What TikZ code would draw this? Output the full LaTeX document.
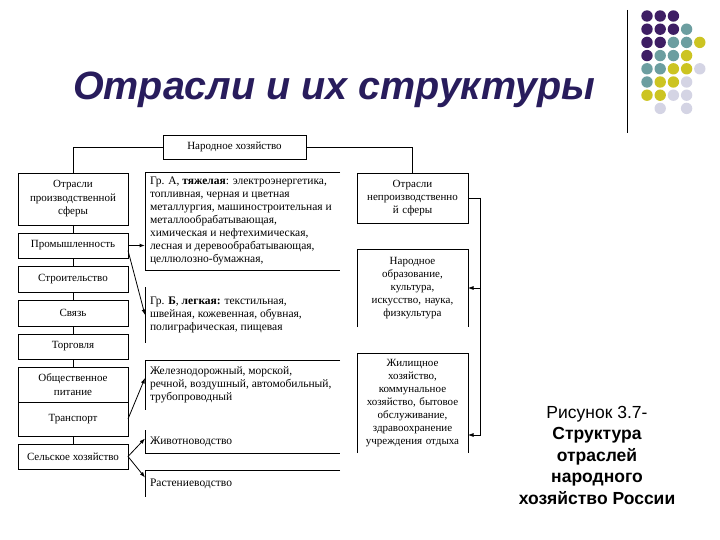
\documentclass[tikz,border=0pt]{standalone}
\usepackage{fontspec}
\setmainfont{Liberation Serif}
\newfontfamily\arialfont{Liberation Sans}
\usetikzlibrary{arrows.meta,positioning}
\definecolor{titlec}{RGB}{40,28,92}
\definecolor{dotP}{RGB}{62,30,100}
\definecolor{dotT}{RGB}{108,158,160}
\definecolor{dotY}{RGB}{204,196,34}
\definecolor{dotL}{RGB}{212,212,228}
\definecolor{dotN}{RGB}{255,255,255}

\begin{document}
\begin{tikzpicture}[
    x=1pt, y=-1pt,
    node distance=8pt,
    every node/.style={outer sep=0pt},
    lbox/.style={draw, line width=0.7pt, minimum width=110pt, inner sep=1pt,
                 align=center, font=\fontsize{11}{13.5}\selectfont},
    mbox/.style={minimum width=195pt, inner xsep=5pt, inner ysep=1pt,
                 text width=185pt, align=flush left, font=\fontsize{11.5}{13}\selectfont},
    rbox/.style={minimum width=111pt, inner xsep=2pt, inner ysep=1pt,
                 text width=107pt, align=center, font=\fontsize{11}{13}\selectfont},
    edge/.style={line width=0.7pt},
    arrow/.style={-{Latex[length=5.5pt,width=4pt]}, line width=0.8pt}
  ]
  \useasboundingbox (0,0) rectangle (720,540);

  % title and corner decoration
  \node[font=\arialfont\bfseries\itshape\fontsize{39.5}{44}\selectfont, text=titlec] (title) at (334,90) {Отрасли и их структуры};
  \draw[line width=0.8pt] (627,10) -- (627,133);
  \foreach \row [count=\j] in {{P,P,P,N,N},{P,P,P,T,N},{P,P,T,T,Y},{P,T,T,Y,N},
                               {T,T,Y,Y,L},{T,Y,Y,L,N},{Y,Y,L,L,N},{N,L,N,L,N}}
    \foreach \c [count=\i] in \row
      \fill[dot\c] (633.8+13.2*\i, 2.8+13.2*\j) circle (5.7);

  \node[lbox, minimum width=143pt, minimum height=24pt] (nh) at (234.5,147) {Народное хозяйство};

  % left column
  \node[lbox, minimum height=52pt] (prodsf) at (73,199) {Отрасли\\производственной\\сферы};
  \node[lbox, minimum height=25pt, below=of prodsf] (prom) {Промышленность};
  \node[lbox, minimum height=26pt, below=of prom] (stroi) {Строительство};
  \node[lbox, minimum height=26pt, below=of stroi] (svyaz) {Связь};
  \node[lbox, minimum height=25pt, below=of svyaz] (torg) {Торговля};
  \node[lbox, minimum height=35pt, below=of torg] (obshch) {Общественное\\питание};
  \node[lbox, minimum height=34pt, below=0pt of obshch] (transp) {Транспорт};
  \node[lbox, minimum height=25pt, below=of transp] (selkh) {Сельское хозяйство};

  % middle column
  \node[mbox, minimum height=98pt] (grA) at (242.5,221) {Гр. А, \textbf{тяжелая}: электроэнергетика,\\топливная, черная и цветная\\металлургия, машиностроительная и\\металлообрабатывающая,\\химическая и нефтехимическая,\\лесная и деревообрабатывающая,\\целлюлозно-бумажная,};
  \node[mbox, minimum height=56pt] (grB) at (242.5,315) {Гр. \textbf{Б}, \textbf{легкая:} текстильная,\\швейная, кожевенная, обувная,\\полиграфическая, пищевая};
  \node[mbox, minimum height=50pt] (trvid) at (242.5,385) {Железнодорожный, морской,\\речной, воздушный, автомобильный,\\трубопроводный};
  \node[mbox, minimum height=23pt] (zhiv) at (242.5,441.5) {Животноводство};
  \node[mbox, minimum height=27pt] (rast) at (242.5,483.5) {Растениеводство};

  % right column
  \node[rbox, draw, line width=0.7pt, minimum height=50pt] (neprsf) at (412.5,198) {Отрасли\\непроизводственно\\й сферы};
  \node[rbox, minimum height=78pt] (narobr) at (412.5,288) {Народное\\образование,\\культура,\\искусство, наука,\\физкультура};
  \node[rbox, minimum height=100pt] (zhil) at (412.5,403) {Жилищное\\хозяйство,\\коммунальное\\хозяйство, бытовое\\обслуживание,\\здравоохранение\\учреждения отдыха};

  \node[font=\arialfont\fontsize{17.5}{21.5}\selectfont, align=center] (caption) at (597,455)
    {Рисунок 3.7-\\\textbf{Структура}\\\textbf{отраслей}\\\textbf{народного}\\\textbf{хозяйство России}};

  % open box outlines
  \draw[edge] (grA.north east) -- (grA.north west) -- (grA.south west) -- (grA.south east);
  \draw[edge] (grB.north west) -- (grB.south west);
  \draw[edge] (trvid.north east) -- (trvid.north west) -- (trvid.south west);
  \draw[edge] (zhiv.north west) -- (zhiv.south west) -- (zhiv.south east);
  \draw[edge] (rast.north east) -- (rast.north west) -- (rast.south west);
  \draw[edge] (narobr.south west) -- (narobr.north west) -- (narobr.north east) -- (narobr.south east);
  \draw[edge] (zhil.south west) -- (zhil.north west) -- (zhil.north east) -- (zhil.south east);

  % connectors
  \draw[edge] (nh.west) -| (prodsf.north);
  \draw[edge] (nh.east) -| (neprsf.north);
  \draw[edge] (prodsf.south) -- (prom.north);
  \draw[edge] (prom.south) -- (stroi.north);
  \draw[edge] (stroi.south) -- (svyaz.north);
  \draw[edge] (svyaz.south) -- (torg.north);
  \draw[edge] (torg.south) -- (obshch.north);
  \draw[edge] (transp.south) -- (selkh.north);

  \draw[arrow, line width=1.4pt] (prom.east) -- (prom.east -| grA.west);
  \draw[arrow] ([yshift=-5pt]prom.east) -- (grB.west);
  \draw[arrow] (transp.east) -- ([yshift=7pt]trvid.west);
  \draw[arrow] (selkh.east) -- ([yshift=3pt]zhiv.west);
  \draw[arrow] (selkh.east) -- ([yshift=6pt]rast.west);

  \coordinate (rbus) at (480,198);
  \draw[edge] (neprsf.east) -- (rbus);
  \draw[arrow] (rbus) |- (narobr.east);
  \draw[arrow] (rbus) |- ([yshift=-32pt]zhil.east);

\end{tikzpicture}
\end{document}
